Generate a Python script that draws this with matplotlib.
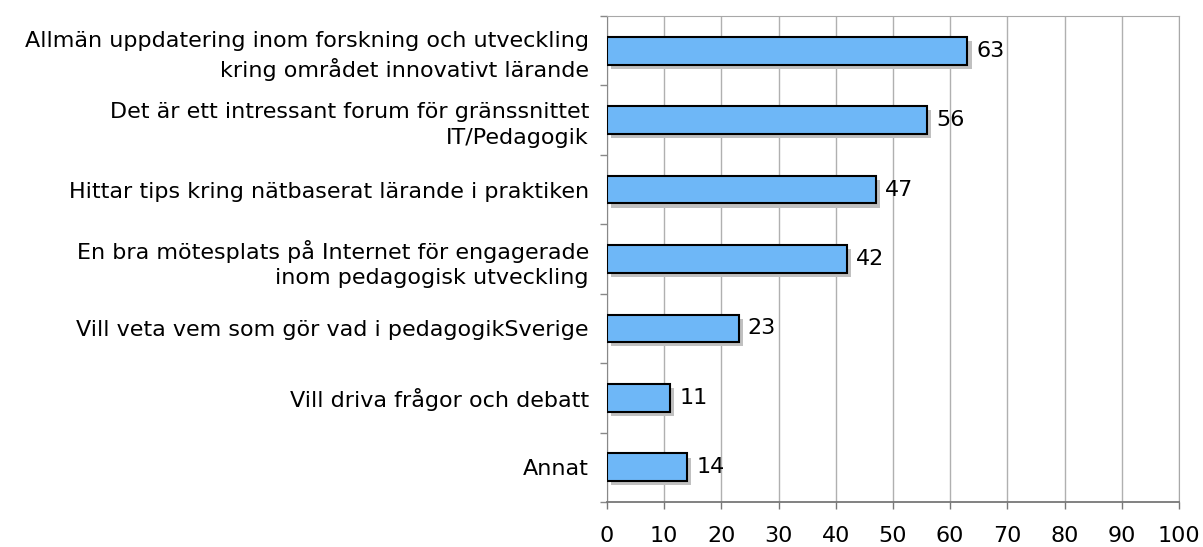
import matplotlib as mpl
mpl.use('Agg')
from matplotlib import pyplot as plt
import matplotlib.patheffects as pe
import numpy as np

# survey answers, top to bottom
categories = ['Allmän uppdatering inom forskning och utveckling\nkring området innovativt lärande',
              'Det är ett intressant forum för gränssnittet\nIT/Pedagogik',
              'Hittar tips kring nätbaserat lärande i praktiken',
              'En bra mötesplats på Internet för engagerade\ninom pedagogisk utveckling',
              'Vill veta vem som gör vad i pedagogikSverige',
              'Vill driva frågor och debatt',
              'Annat']
values = [63, 56, 47, 42, 23, 11, 14]
xticks = [0, 10, 20, 30, 40, 50, 60, 70, 80, 90, 100]

plt.rcParams['font.family'] = ['DejaVu Sans']
fs = 16

fig = plt.figure(figsize=(12.03, 5.47), dpi=100)
ax = fig.add_axes([0.5046, 0.0823, 0.980 - 0.5046, 0.9707 - 0.0823])

y = np.arange(len(categories))
bars = ax.barh(y, values, height=0.4, color='#6eb7f7', edgecolor='black', linewidth=1.5, zorder=3)
for b in bars:
    b.set_path_effects([pe.SimplePatchShadow(offset=(3, -3), shadow_rgbFace='#c0c0c0', alpha=1.0),
                        pe.Normal()])

for yi, v in zip(y, values):
    ax.text(v + 1.6, yi, str(v), va='center', ha='left', fontsize=fs, zorder=4)

ax.set_xlim(0, 100)
ax.set_ylim(len(categories) - 0.5, -0.5)
ax.set_xticks(xticks)
ax.set_xticklabels([str(t) for t in xticks], fontsize=fs)
ax.set_yticks(y)
ax.set_yticklabels(categories, fontsize=fs, ha='right', multialignment='right', linespacing=1.35)
ax.set_yticks(np.arange(len(categories) + 1) - 0.5, minor=True)
ax.tick_params(axis='y', which='major', length=0, pad=13)
ax.tick_params(axis='y', which='minor', length=5, color='#888888', width=1)
ax.tick_params(axis='x', length=5, color='#777777', width=1, pad=12.5)

ax.grid(axis='x', color='#b0b0b0', linewidth=1, zorder=0)
ax.set_axisbelow(True)
for s in ['top', 'right']:
    ax.spines[s].set_color('#a8a8a8')
ax.spines['left'].set_color('#888888')
ax.spines['bottom'].set_color('#777777')
ax.spines['bottom'].set_linewidth(1.3)

plt.savefig('out.png', dpi=100)
